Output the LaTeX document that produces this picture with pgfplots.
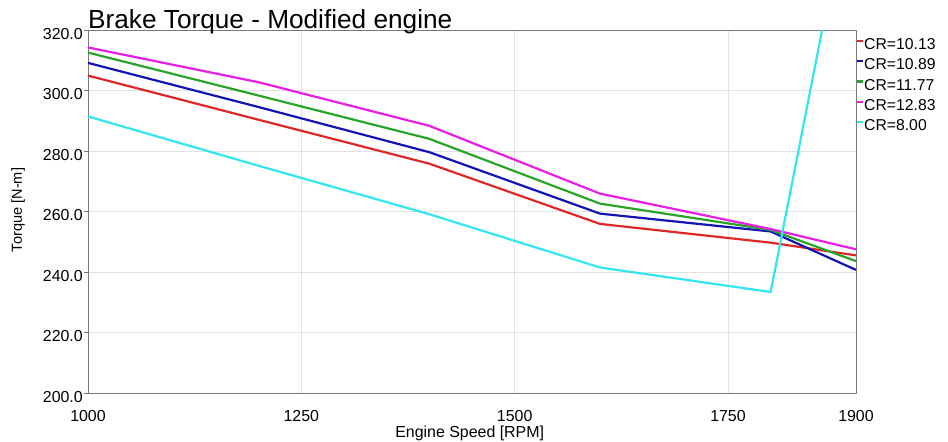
\documentclass[border=0pt]{standalone}
\usepackage{pgfplots}
\pgfplotsset{compat=1.18}
\usepackage{fontspec}
\setmainfont{Liberation Sans}
\definecolor{cRed}{RGB}{222,40,40}
\definecolor{cBlue}{RGB}{20,20,180}
\definecolor{cGreen}{RGB}{40,165,40}
\definecolor{cMag}{RGB}{230,30,230}
\definecolor{cCyan}{RGB}{50,230,240}
\definecolor{gridc}{RGB}{225,225,225}
\definecolor{axc}{RGB}{120,120,120}
\begin{document}
\begin{tikzpicture}
\useasboundingbox (-88bp,-48.6bp) rectangle (860bp,393.4bp);
\begin{axis}[
  at={(0,0)}, anchor=south west,
  scale only axis,
  width=768bp, height=363.2bp,
  xmin=1000, xmax=1900, ymin=200, ymax=320,
  xtick={1000,1250,1500,1750,1900},
  ytick={200,220,240,260,280,300,320},
  grid=major,
  major grid style={gridc, line width=0.8bp},
  axis line style={axc, line width=0.9bp},
  tick align=outside,
  major tick length=4bp,
  xtick style={draw=none},
  ytick pos=left,
  ytick style={axc, line width=0.8bp},
  /pgf/number format/assume math mode=true,
  x tick label style={/pgf/number format/1000 sep={}, font=\fontsize{16}{18}\selectfont, anchor=base, inner sep=0pt, yshift=-24.5bp},
  y tick label style={/pgf/number format/.cd, fixed, fixed zerofill, precision=1, /tikz/.cd, font=\fontsize{16}{18}\selectfont, anchor=east, inner sep=0pt, xshift=-1bp, yshift=-3.5bp},
  xlabel={Engine Speed [RPM]},
  xlabel style={font=\fontsize{16}{18}\selectfont, at={(axis description cs:0.497,0)}, anchor=base, yshift=-44.3bp, inner sep=0pt},
  ylabel={Torque [N-m]},
  ylabel style={font=\fontsize{14.6}{16}\selectfont, at={(axis description cs:-0.0911,0.505)}, anchor=center, inner sep=0pt},
  legend style={at={(1,1)}, anchor=north west, draw=none, fill=none,
    font=\fontsize{15.8}{20.3}\selectfont, row sep=0pt, inner sep=0pt, outer sep=0pt,
    yshift=-6bp, xshift=0bp,
    nodes={inner xsep=0.5bp, inner ysep=0pt, text height=13.3bp, text depth=7bp}},
  legend cell align=left,
  legend image code/.code={\draw[#1, line width=2.2bp] (0bp,5.5bp) -- (5.5bp,5.5bp);},
]
\addplot[cRed, line width=2.2bp] coordinates {(1000,305.0) (1200,290.4) (1400,275.9) (1600,256.0) (1800,249.8) (1900,245.6)};
\addlegendentry{CR=10.13}
\addplot[cBlue, line width=2.2bp] coordinates {(1000,309.2) (1200,294.6) (1400,279.7) (1600,259.4) (1800,253.5) (1900,240.8)};
\addlegendentry{CR=10.89}
\addplot[cGreen, line width=2.2bp] coordinates {(1000,312.6) (1200,298.4) (1400,284.1) (1600,262.7) (1800,254.0) (1900,243.7)};
\addlegendentry{CR=11.77}
\addplot[cMag, line width=2.2bp] coordinates {(1000,314.3) (1200,302.8) (1400,288.4) (1600,266.0) (1800,254.3) (1900,247.6)};
\addlegendentry{CR=12.83}
\addplot[cCyan, line width=2.2bp] coordinates {(1000,291.5) (1200,275.2) (1400,259.2) (1600,241.6) (1800,233.5) (1900,377.0)};
\addlegendentry{CR=8.00}
\end{axis}
\node[anchor=base west, inner sep=0pt, font=\fontsize{26.3}{30}\selectfont] at (0bp,365.2bp) {Brake Torque - Modified engine};
\end{tikzpicture}
\end{document}
